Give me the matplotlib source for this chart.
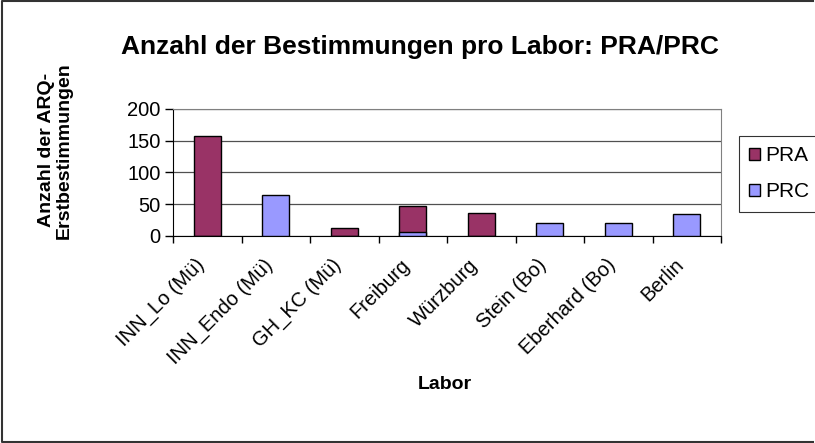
import numpy as np
import matplotlib.pyplot as plt
from matplotlib.lines import Line2D
from matplotlib.transforms import ScaledTranslation

plt.rcParams['font.family'] = ['Liberation Sans', 'DejaVu Sans']

# Daten
labore = ['INN_Lo (Mü)', 'INN_Endo (Mü)', 'GH_KC (Mü)', 'Freiburg',
          'Würzburg', 'Stein (Bo)', 'Eberhard (Bo)', 'Berlin']
pra = [157, 0, 13, 48, 37, 0, 0, 0]
prc = [0, 64, 0, 7, 0, 21, 21, 34]

fig = plt.figure(figsize=(8.15, 4.43), dpi=100)
ax = fig.add_axes([173 / 815, 1 - 236 / 443, 548 / 815, 127 / 443])

x = np.arange(len(labore))
w = 0.4
# überlappende Säulen: PRA zuerst, PRC darüber
ax.bar(x, pra, width=w, color='#993366', edgecolor='black', linewidth=1, label='PRA', zorder=3)
ax.bar(x, prc, width=w, color='#9999FF', edgecolor='black', linewidth=1, label='PRC', zorder=4)

ax.set_xlim(-0.5, len(labore) - 0.5)
ax.set_ylim(0, 200)
ax.set_yticks([0, 50, 100, 150, 200])
ax.yaxis.grid(True, color='#505050', linewidth=0.9, zorder=0)
ax.set_axisbelow(True)

ax.set_xticks(np.arange(len(labore) + 1) - 0.5)
ax.set_xticklabels([])
ax.tick_params(axis='x', length=5, direction='out', width=1)
ax.tick_params(axis='y', length=6, direction='out', labelsize=14.5, width=1, pad=3)

# Kategorienbeschriftung, schräg (rechtes Ende unter der Kategorie)
off = ax.get_xaxis_transform() + ScaledTranslation(-0.06, -0.26, fig.dpi_scale_trans)
for i, name in enumerate(labore):
    ax.text(i, 0, name, transform=off, rotation=45, rotation_mode='anchor',
            ha='right', va='center', fontsize=14.5)

for s in ['top', 'right']:
    ax.spines[s].set_color('#808080')
ax.spines['left'].set_color('black')
ax.spines['bottom'].set_color('black')

fig.text(0.515, 0.894, 'Anzahl der Bestimmungen pro Labor: PRA/PRC',
         ha='center', va='center', fontsize=19, fontweight='bold')
fig.text(0.068, 0.661, 'Anzahl der ARQ-\nErstbestimmungen', rotation=90,
         ha='center', va='center', fontsize=14, fontweight='bold', linespacing=1.0)
fig.text(0.546, 0.133, 'Labor', ha='center', va='center', fontsize=14, fontweight='bold')

leg = fig.legend(loc='upper left', bbox_to_anchor=(739 / 815, 1 - 136 / 443), fontsize=15,
                 frameon=True, fancybox=False, edgecolor='black',
                 handlelength=0.5, handleheight=0.5, handletextpad=0.25,
                 borderpad=0.5, labelspacing=0.8, borderaxespad=0)
leg.get_frame().set_linewidth(0.8)

# Rahmen um das Diagramm (rechts abgeschnitten)
fig.add_artist(Line2D([0.997, 0.003, 0.003, 0.997], [0.997, 0.997, 0.003, 0.003],
                      transform=fig.transFigure, color='#333333', linewidth=1.5))

fig.savefig('out.png', dpi=100)
